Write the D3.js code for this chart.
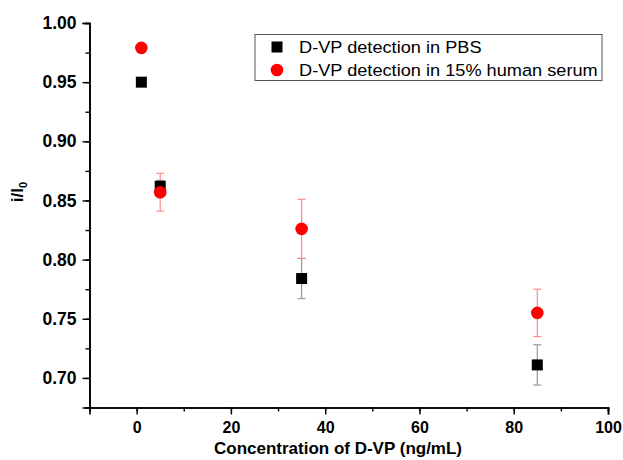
<!DOCTYPE html>
<meta charset="utf-8">
<script src="https://d3js.org/d3.v7.min.js"></script>
<style>
  body { margin: 0; background: #fff; }
  text { font-family: Arial, "Liberation Sans", sans-serif; }
</style>
<div id="chart"></div>
<script>

    // data
    var conc = [1, 5, 35, 85];
    var pbsMean = [0.950, 0.862, 0.784, 0.711];
    var pbsErr = [0, 0.005, 0.017, 0.017];
    var serumMean = [0.979, 0.857, 0.826, 0.755];
    var serumErr = [0, 0.016, 0.025, 0.020];
    var seriesNames = ["D-VP detection in PBS", "D-VP detection in 15% human serum"];
    var xTicks = [0, 20, 40, 60, 80, 100];
    var yTicks = [0.70, 0.75, 0.80, 0.85, 0.90, 0.95, 1.00];

    var width = 623, height = 460;

    var svg = d3.select("#chart")
        .append("svg")
        .attr("width", width)
        .attr("height", height);

    var x = d3.scaleLinear().domain([-10, 100]).range([89.5, 608]);
    var y = d3.scaleLinear().domain([0.675, 1.0]).range([407.5, 23]);

    // minor ticks first (short), then major ticks with labels
    svg.append("g")
        .attr("transform", "translate(0," + y.range()[0] + ")")
        .call(d3.axisBottom(x).tickValues(d3.range(-10, 101, 10)).tickSize(4).tickFormat(""));
    svg.append("g")
        .attr("transform", "translate(" + x.range()[0] + ",0)")
        .call(d3.axisLeft(y).tickValues(d3.range(0.675, 1.001, 0.025)).tickSize(4).tickFormat(""));

    var xAxis = svg.append("g")
        .attr("transform", "translate(0," + y.range()[0] + ")")
        .call(d3.axisBottom(x).tickValues(xTicks).tickSize(7).tickPadding(7).tickFormat(d3.format("d")));
    var yAxis = svg.append("g")
        .attr("transform", "translate(" + x.range()[0] + ",0)")
        .call(d3.axisLeft(y).tickValues(yTicks).tickSize(7).tickPadding(6).tickFormat(d3.format(".2f")));

    svg.selectAll(".domain").attr("stroke", "#000").attr("stroke-width", 1.6);
    svg.selectAll(".tick line").attr("stroke", "#000").attr("stroke-width", 1.4);
    xAxis.selectAll("text")
        .attr("fill", "#000")
        .style("font-size", "16px")
        .style("font-weight", "bold");
    yAxis.selectAll("text")
        .attr("fill", "#000")
        .style("font-size", "17.5px")
        .style("font-weight", "bold");

    // axis titles
    svg.append("text")
        .attr("x", 338).attr("y", 454)
        .attr("text-anchor", "middle")
        .style("font-size", "17px")
        .style("font-weight", "bold")
        .text("Concentration of D-VP (ng/mL)");

    var yl = svg.append("text")
        .attr("transform", "translate(23,192) rotate(-90)")
        .attr("text-anchor", "middle")
        .style("font-size", "17px")
        .style("font-weight", "bold");
    yl.append("tspan").text("i/I");
    yl.append("tspan").attr("dy", 4).style("font-size", "11px").text("0");

    // error bars
    function errorBars(means, errs, color) {
        var g = svg.append("g").attr("stroke", color).attr("stroke-width", 1.2);
        conc.forEach(function (c, i) {
            if (!errs[i]) return;
            var cx = x(c), top = y(means[i] + errs[i]), bot = y(means[i] - errs[i]);
            g.append("line").attr("x1", cx).attr("x2", cx).attr("y1", top).attr("y2", bot);
            g.append("line").attr("x1", cx - 4).attr("x2", cx + 4).attr("y1", top).attr("y2", top);
            g.append("line").attr("x1", cx - 4).attr("x2", cx + 4).attr("y1", bot).attr("y2", bot);
        });
    }
    errorBars(pbsMean, pbsErr, "#999");
    errorBars(serumMean, serumErr, "#ff8a8a");

    svg.selectAll("rect.pbs")
        .data(conc)
        .enter()
        .append("rect")
        .attr("class", "pbs")
        .attr("x", function (d) { return x(d) - 5.5; })
        .attr("y", function (d, i) { return y(pbsMean[i]) - 5.5; })
        .attr("width", 11)
        .attr("height", 11)
        .attr("fill", "#000");

    svg.selectAll("circle.serum")
        .data(conc)
        .enter()
        .append("circle")
        .attr("class", "serum")
        .attr("cx", function (d) { return x(d); })
        .attr("cy", function (d, i) { return y(serumMean[i]); })
        .attr("r", 6.3)
        .attr("fill", "#ff0000");

    // legend
    var lg = svg.append("g");
    lg.append("rect")
        .attr("x", 255).attr("y", 34.5)
        .attr("width", 347).attr("height", 46)
        .attr("fill", "#fff")
        .attr("stroke", "#555")
        .attr("stroke-width", 1);
    lg.append("rect")
        .attr("x", 277 - 5.5).attr("y", 47 - 5.5)
        .attr("width", 11).attr("height", 11)
        .attr("fill", "#000");
    lg.append("circle")
        .attr("cx", 277).attr("cy", 70)
        .attr("r", 6.3)
        .attr("fill", "#ff0000");
    seriesNames.forEach(function (name, i) {
        lg.append("text")
            .attr("x", 0).attr("y", 0)
            .attr("transform", "translate(299," + (53 + i * 23) + ") scale(1.07,1)")
            .style("font-size", "17px")
            .text(name);
    });

</script>
